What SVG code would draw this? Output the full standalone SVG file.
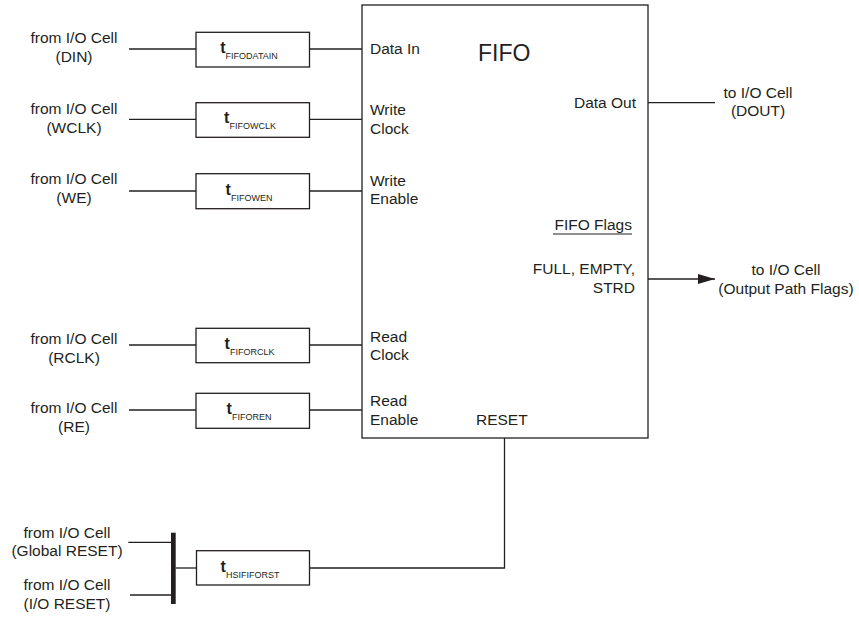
<svg xmlns="http://www.w3.org/2000/svg" width="859" height="618" viewBox="0 0 859 618">
<style>
  text { font-family: "Liberation Sans", Arial, sans-serif; font-size: 15.5px; fill: #231f20; }
  .c { text-anchor: middle; }
  .r { text-anchor: end; }
  .box { fill: #ffffff; stroke: #231f20; stroke-width: 1.3; }
  .wire { fill: none; stroke: #231f20; stroke-width: 1.3; }
  .tb { font-weight: bold; font-size: 16px; }
  .sub { font-size: 9px; }
  .title { font-size: 23px; }
</style>
<defs>
  <marker id="arrow" markerWidth="17" markerHeight="10" refX="17" refY="5" orient="auto" markerUnits="userSpaceOnUse">
    <polygon points="0,0 17,5 0,10" fill="#231f20"/>
  </marker>
</defs>
<rect width="859" height="618" fill="#ffffff"/>

<g id="connectors">
  <line class="wire" x1="129" y1="49" x2="196" y2="49"/>
  <line class="wire" x1="309.5" y1="49" x2="362" y2="49"/>
  <line class="wire" x1="129" y1="119.3" x2="196" y2="119.3"/>
  <line class="wire" x1="309.5" y1="119.3" x2="362" y2="119.3"/>
  <line class="wire" x1="129" y1="191" x2="196" y2="191"/>
  <line class="wire" x1="309.5" y1="191" x2="362" y2="191"/>
  <line class="wire" x1="129" y1="345" x2="196" y2="345"/>
  <line class="wire" x1="309.5" y1="345" x2="362" y2="345"/>
  <line class="wire" x1="129" y1="410" x2="196" y2="410"/>
  <line class="wire" x1="309.5" y1="410" x2="362" y2="410"/>
  <line class="wire" x1="648" y1="102.7" x2="715" y2="102.7"/>
  <line class="wire" x1="648" y1="279" x2="715" y2="279" marker-end="url(#arrow)"/>
  <line class="wire" x1="128.3" y1="542.3" x2="171" y2="542.3"/>
  <line class="wire" x1="130" y1="595" x2="171" y2="595"/>
  <line class="wire" x1="175.7" y1="568" x2="196.5" y2="568"/>
  <polyline class="wire" points="309.5,568 504.5,568 504.5,438"/>
</g>

<g id="fifo">
  <rect class="box" x="362" y="5" width="286" height="433"/>
  <text class="title" x="478" y="60.7">FIFO</text>
  <text x="370" y="54.3">Data In</text>
  <text x="370" y="115">Write</text>
  <text x="370" y="133.5">Clock</text>
  <text x="370" y="185.7">Write</text>
  <text x="370" y="204.2">Enable</text>
  <text x="370" y="341.7">Read</text>
  <text x="370" y="360.2">Clock</text>
  <text x="370" y="406">Read</text>
  <text x="370" y="424.8">Enable</text>
  <text x="476" y="425">RESET</text>
  <text class="r" x="636" y="107.7">Data Out</text>
  <text class="r" x="632" y="230">FIFO Flags</text>
  <line x1="553" y1="234" x2="632" y2="234" stroke="#231f20" stroke-width="1"/>
  <text class="r" x="635" y="274">FULL, EMPTY,</text>
  <text class="r" x="635" y="292.5">STRD</text>
</g>

<g id="d-din">
  <rect class="box" x="196" y="32.3" width="113.5" height="34.7"/>
  <text class="c" x="249" y="53"><tspan class="tb">t</tspan><tspan class="sub" dy="5.5">FIFODATAIN</tspan></text>
</g>
<g id="d-wclk">
  <rect class="box" x="196" y="102.7" width="113.5" height="34.6"/>
  <text class="c" x="250" y="123.3"><tspan class="tb">t</tspan><tspan class="sub" dy="5.5">FIFOWCLK</tspan></text>
</g>
<g id="d-we">
  <rect class="box" x="196" y="173.7" width="113.5" height="35"/>
  <text class="c" x="249" y="195"><tspan class="tb">t</tspan><tspan class="sub" dy="5.5">FIFOWEN</tspan></text>
</g>
<g id="d-rclk">
  <rect class="box" x="196" y="328.3" width="113.5" height="34.4"/>
  <text class="c" x="249.5" y="349"><tspan class="tb">t</tspan><tspan class="sub" dy="5.5">FIFORCLK</tspan></text>
</g>
<g id="d-re">
  <rect class="box" x="196" y="393.3" width="113.5" height="35"/>
  <text class="c" x="249" y="414"><tspan class="tb">t</tspan><tspan class="sub" dy="5.5">FIFOREN</tspan></text>
</g>
<g id="d-rst">
  <rect class="box" x="196.5" y="550.7" width="113" height="34.3"/>
  <text class="c" x="250" y="572"><tspan class="tb">t</tspan><tspan class="sub" dy="5.5">HSIFIFORST</tspan></text>
</g>

<g id="reset-bar">
  <rect x="171" y="532.7" width="4.7" height="71.3" fill="#231f20"/>
</g>

<g id="src-din">
  <text class="c" x="74" y="43.3">from I/O Cell</text>
  <text class="c" x="74" y="61.8">(DIN)</text>
</g>
<g id="src-wclk">
  <text class="c" x="74" y="114">from I/O Cell</text>
  <text class="c" x="74" y="132.5">(WCLK)</text>
</g>
<g id="src-we">
  <text class="c" x="74" y="184.3">from I/O Cell</text>
  <text class="c" x="74" y="202.8">(WE)</text>
</g>
<g id="src-rclk">
  <text class="c" x="74" y="344">from I/O Cell</text>
  <text class="c" x="74" y="362.5">(RCLK)</text>
</g>
<g id="src-re">
  <text class="c" x="74" y="413">from I/O Cell</text>
  <text class="c" x="74" y="431.5">(RE)</text>
</g>
<g id="src-grst">
  <text class="c" x="67" y="537.7">from I/O Cell</text>
  <text class="c" x="67" y="556.2">(Global RESET)</text>
</g>
<g id="src-iorst">
  <text class="c" x="67" y="590">from I/O Cell</text>
  <text class="c" x="67" y="608.5">(I/O RESET)</text>
</g>
<g id="dst-dout">
  <text class="c" x="758" y="97.7">to I/O Cell</text>
  <text class="c" x="758" y="116.3">(DOUT)</text>
</g>
<g id="dst-flags">
  <text class="c" x="786" y="275">to I/O Cell</text>
  <text class="c" x="786" y="293.5">(Output Path Flags)</text>
</g>
</svg>
